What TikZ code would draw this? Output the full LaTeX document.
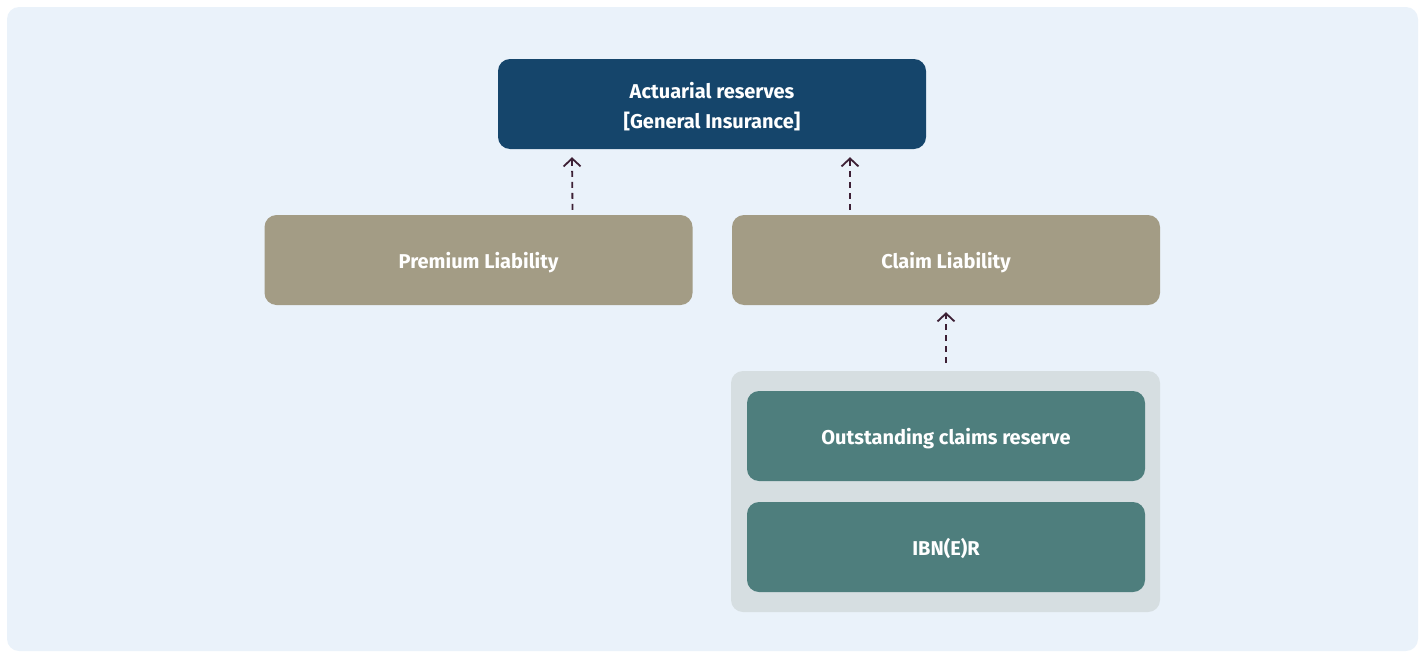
\documentclass[tikz,border=0pt]{standalone}
\usepackage{fontspec}
\setmainfont{Fira Sans}
\usetikzlibrary{arrows.meta}
\definecolor{bgc}{HTML}{EAF2FA}
\definecolor{topc}{HTML}{15456B}
\definecolor{tanc}{HTML}{A39C85}
\definecolor{tealc}{HTML}{4E7E7D}
\definecolor{grpc}{HTML}{D6DEE1}
\definecolor{arrc}{HTML}{3D2035}
\tikzset{
  txt/.style={text=white, font=\fontsize{20}{30}\selectfont\bfseries, align=center, inner sep=0pt},
  box/.style={txt, rectangle, rounded corners=12pt, minimum width=428pt, minimum height=90pt,
    text height=17pt, text depth=0pt},
  link/.style={draw=arrc, line width=1.8pt, dash pattern=on 6pt off 5pt,
    -{Straight Barb[length=8pt,width=17pt,line width=1.8pt]}}
}
\begin{document}
\begin{tikzpicture}[x=1pt,y=-1pt]
\useasboundingbox (0,0) rectangle (1421,653);
\fill[bgc, rounded corners=12pt] (7,7) rectangle (1418,651);
\node[box, fill=topc] (top) at (712,104) {};
\node[txt] (toptext) at ([yshift=-2.5pt]top.center) {Actuarial reserves\\{}[General Insurance]};
\node[box, fill=tanc] (pl) at (478.5,260) {Premium Liability};
\node[box, fill=tanc] (cl) at (946,260) {Claim Liability};
\fill[grpc, rounded corners=12pt] (731,371) rectangle (1160,612);
\node[box, fill=tealc, minimum width=398pt] (os) at (946,436) {Outstanding claims reserve};
\node[box, fill=tealc, minimum width=398pt] (ib) at (946,547) {IBN(E)R};
\coordinate (g) at (946,371);
\draw[link] ([xshift=94pt,yshift=5pt]pl.north) -- ([xshift=-140pt,yshift=-8pt]top.south);
\draw[link] ([xshift=-96pt,yshift=5pt]cl.north) -- ([xshift=138pt,yshift=-8pt]top.south);
\draw[link] ([yshift=8pt]g) -- ([yshift=-7pt]cl.south);
\end{tikzpicture}
\end{document}
